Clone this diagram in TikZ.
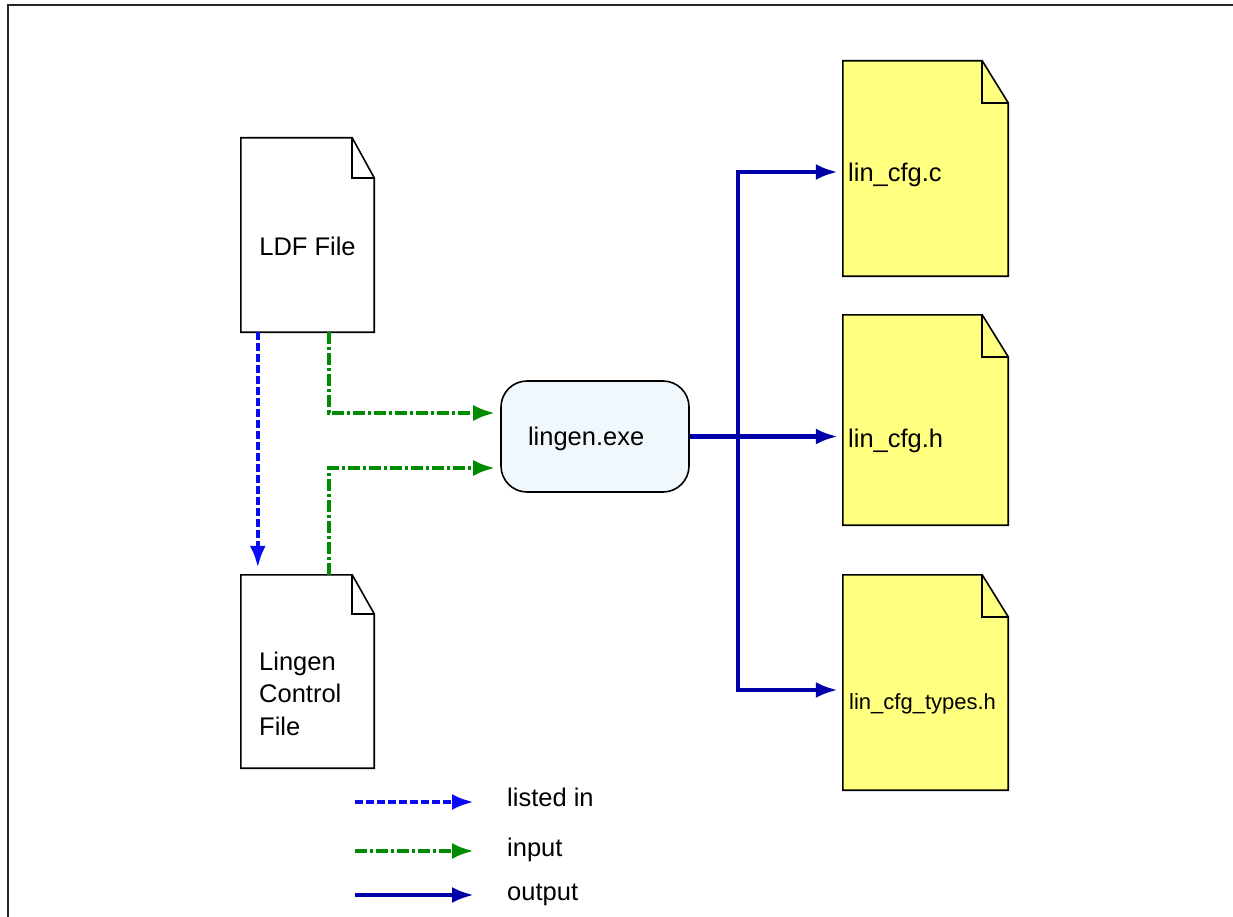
\documentclass[tikz,border=0pt]{standalone}
\usepackage{fontspec}
\setmainfont{Liberation Sans}
\usetikzlibrary{arrows.meta, positioning, calc}
\definecolor{listedblue}{RGB}{10,10,245}
\definecolor{inputgreen}{RGB}{0,140,0}
\definecolor{outputblue}{RGB}{0,0,170}
\definecolor{docyellow}{RGB}{255,255,128}
\definecolor{exefill}{RGB}{240,248,254}
\tikzset{
  page/.style={draw=none, inner sep=0pt},
  pageline/.style={line width=1.6pt, line join=miter},
  exebox/.style={draw, rounded corners=26pt, line width=1.6pt, fill=exefill,
                 minimum width=188pt, minimum height=111pt, inner sep=0pt,
                 text width=134pt, align=left, text depth=0pt,
                 font=\fontsize{25.5}{30}\selectfont},
  fname/.style={inner sep=0pt, font=\fontsize{25.5}{32.5}\selectfont},
  flow/.style={-{Latex[length=22pt, width=16pt]}, line width=4.2pt, shorten >=5pt},
  listedline/.style={flow, listedblue, dash pattern=on 8pt off 3pt},
  inputline/.style={flow, inputgreen, dash pattern=on 12pt off 3pt on 3pt off 3pt},
  outputline/.style={flow, outputblue},
  frameline/.style={line width=2.2pt, black!85},
}

\begin{document}
\begin{tikzpicture}[x=1pt, y=-1pt]
  \useasboundingbox (0,0) rectangle (1233,917);
  \draw[frameline] (8,917) -- (8,5) -- (1233,5);

  % ---------- input files ----------
  \node[page, minimum width=133pt, minimum height=194pt] (ldf) at (307.5,235) {};
  \node[page, minimum width=133pt, minimum height=193pt] (ctl) at (307.5,671.5) {};

  % ---------- generated files ----------
  \node[page, minimum width=165pt, minimum height=215pt] (cfgc) at (925.5,168.5) {};
  \node[page, minimum width=165pt, minimum height=210pt] (cfgh) at (925.5,420) {};
  \node[page, minimum width=165pt, minimum height=215pt] (cfgt) at (925.5,682.5) {};

  % page outline with a folded corner
  \foreach \p/\fw/\fh/\c in {ldf/22pt/40pt/white, ctl/22pt/39pt/white,
      cfgc/26pt/42pt/docyellow, cfgh/26pt/42pt/docyellow, cfgt/26pt/42pt/docyellow}{
    \draw[pageline, fill=\c] (\p.south west) -- (\p.north west)
      -- ([xshift=-\fw]\p.north east) -- ([yshift=-\fh]\p.north east)
      -- (\p.south east) -- cycle;
    \draw[pageline] ([xshift=-\fw]\p.north east) -- ([xshift=-\fw, yshift=-\fh]\p.north east)
      -- ([yshift=-\fh]\p.north east);
  }

  \node[fname, anchor=base] (ldfname) at (307.5,255) {LDF File};
  \node[fname, anchor=west, align=left] (ctlname) at (259,693.5) {Lingen\\Control\\File};
  \node[fname, anchor=base west] (cfgcname) at (848,182) {lin\_cfg.c};
  \node[fname, anchor=base west] (cfghname) at (848,447) {lin\_cfg.h};
  \node[fname, anchor=base west, font=\fontsize{22}{26}\selectfont] (cfgtname)
    at (849,709) {lin\_cfg\_types.h};

  % ---------- generator ----------
  \node[exebox] (exe) at (595,436.5) {lingen.exe};

  % ---------- connectors ----------
  \draw[listedline, shorten >=7pt] ([xshift=17pt]ldf.south west) -- ([xshift=17pt]ctl.north west);
  \draw[inputline] ([xshift=88pt]ldf.south west) |- ([yshift=23.5pt]exe.west);
  \draw[inputline] ([xshift=88pt]ctl.north west) |- ([yshift=-31.5pt]exe.west);

  \coordinate (bus) at (738,436.5);
  \draw[outputline] (exe.east) -- ([yshift=-16.5pt]cfgh.west);
  \draw[outputline] (bus) |- ([yshift=-3.5pt]cfgc.west);
  \draw[outputline] (bus) |- ([yshift=-7.5pt]cfgt.west);

  % ---------- legend ----------
  \node[fname, anchor=base west] (keylisted) at (507,806) {listed in};
  \node[fname, anchor=base west] (keyinput) at (507,856) {input};
  \node[fname, anchor=base west] (keyoutput) at (507,900) {output};
  \coordinate (keyA) at (355,802);
  \coordinate (keyB) at (355,851);
  \coordinate (keyC) at (355,895);
  \draw[listedline, shorten >=33pt] (keyA) -- (keyA -| keylisted.west);
  \draw[inputline, shorten >=33pt] (keyB) -- (keyB -| keyinput.west);
  \draw[outputline, shorten >=33pt] (keyC) -- (keyC -| keyoutput.west);
\end{tikzpicture}
\end{document}
